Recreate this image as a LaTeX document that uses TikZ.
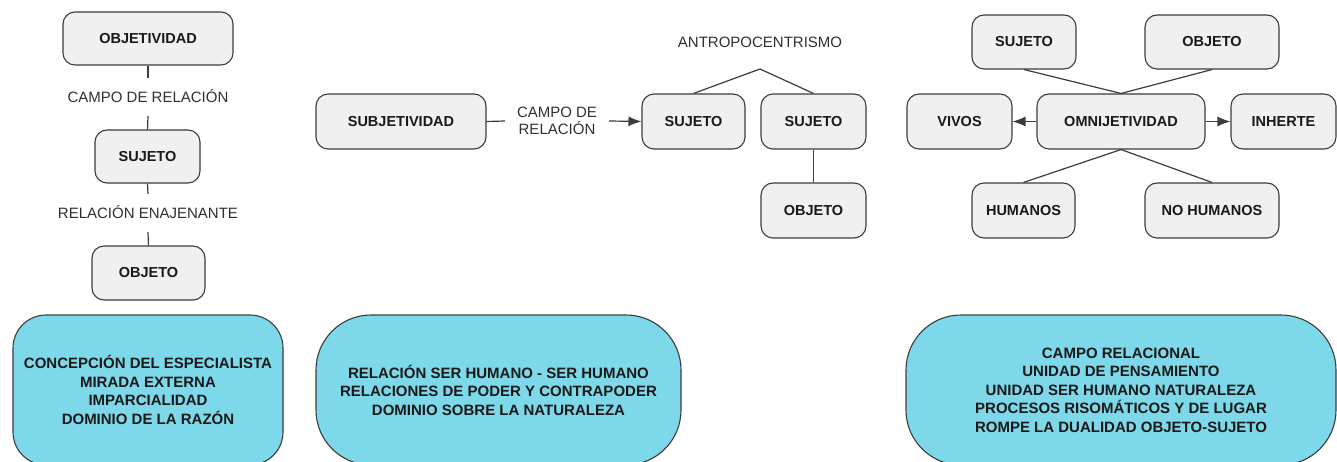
\documentclass[tikz,border=0pt]{standalone}
\usepackage{fontspec}
\setmainfont{Liberation Sans}
\usetikzlibrary{arrows.meta}
\definecolor{boxfill}{HTML}{F0F0F0}
\definecolor{boxline}{HTML}{3C3C3C}
\definecolor{cyanfill}{HTML}{7DD9E9}
\definecolor{labeltext}{HTML}{303030}
\tikzset{
  gbox/.style={draw=boxline, fill=boxfill, line width=1.1pt, rounded corners=12pt,
    inner sep=0pt, font=\bfseries\fontsize{14.5}{17}\selectfont, text=black!90},
  cbox/.style={draw=boxline, fill=cyanfill, line width=1.1pt, inner sep=0pt,
    align=center, font=\bfseries\fontsize{15}{18.5}\selectfont, text=black!90},
  lab/.style={font=\fontsize{15}{17}\selectfont, text=labeltext, text height=11pt,
    text depth=0pt, inner ysep=13.5pt, inner xsep=12pt},
  conn/.style={draw=boxline, line width=1.2pt},
  arr/.style={conn, -{Latex[length=13pt,width=10pt]}}
}
\begin{document}
\begin{tikzpicture}[x=1pt,y=-1pt]
\useasboundingbox (0,0) rectangle (1337,462);
\clip (0,0) rectangle (1337,462);

% ---------- left column ----------
\node[gbox, minimum width=170pt, minimum height=53pt] (objv) at (148,38.5) {OBJETIVIDAD};
\node[lab] (lab1) at (148,97) {CAMPO DE RELACIÓN};
\node[gbox, minimum width=105pt, minimum height=53pt] (suj1) at (147.5,156.5) {SUJETO};
\node[lab] (lab2) at (148,213) {RELACIÓN ENAJENANTE};
\node[gbox, minimum width=113pt, minimum height=54pt] (obj1) at (148.5,273) {OBJETO};
\draw[conn] (objv.south) -- (lab1.north);
\draw[conn] (lab1.south) -- (suj1.north);
\draw[conn] (suj1.south) -- (lab2.north);
\draw[conn] (lab2.south) -- (obj1.north);

% ---------- middle ----------
\node[gbox, minimum width=170pt, minimum height=55pt] (subj) at (401,121.5) {SUBJETIVIDAD};
\node[lab, align=center, text height=, text depth=, inner ysep=2pt, inner xsep=12pt,
      font=\fontsize{15}{17}\selectfont] (lab3) at (557,121) {CAMPO DE\\RELACIÓN};
\node[gbox, minimum width=103pt, minimum height=55pt] (sj1) at (693.5,121.5) {SUJETO};
\node[gbox, minimum width=105pt, minimum height=55pt] (sj2) at (813.5,121.5) {SUJETO};
\node[gbox, minimum width=105pt, minimum height=55pt] (obj2) at (813.5,210.5) {OBJETO};
\node[font=\fontsize{15}{17}\selectfont, text=labeltext] (antro) at (760,42) {ANTROPOCENTRISMO};
\coordinate (peak) at (760,69);
\draw[conn] (subj.east) -- (lab3.west);
\draw[arr] (lab3.east) -- (sj1.west);
\draw[conn] (sj1.north) -- (peak) -- (sj2.north);
\draw[conn] (sj2.south) -- (obj2.north);

% ---------- right ----------
\node[gbox, minimum width=104pt, minimum height=54pt] (rsuj) at (1024,42) {SUJETO};
\node[gbox, minimum width=134pt, minimum height=54pt] (robj) at (1212,42) {OBJETO};
\node[gbox, minimum width=105pt, minimum height=55pt] (vivos) at (959.5,121.5) {VIVOS};
\node[gbox, minimum width=168pt, minimum height=55pt] (omni) at (1121,121.5) {OMNIJETIVIDAD};
\node[gbox, minimum width=105pt, minimum height=55pt] (inh) at (1283.5,121.5) {INHERTE};
\node[gbox, minimum width=103pt, minimum height=55pt] (hum) at (1023.5,210.5) {HUMANOS};
\node[gbox, minimum width=134pt, minimum height=55pt] (nohum) at (1212,210.5) {NO HUMANOS};
\draw[conn] (rsuj.south) -- (omni.north);
\draw[conn] (robj.south) -- (omni.north);
\draw[conn] (omni.south) -- (hum.north);
\draw[conn] (omni.south) -- (nohum.north);
\draw[arr] (omni.west) -- (vivos.east);
\draw[arr] (omni.east) -- (inh.west);

% ---------- bottom cyan boxes ----------
\node[cbox, rounded corners=33pt, minimum width=270pt, minimum height=150pt] (c1) at (148,390)
  {CONCEPCIÓN DEL ESPECIALISTA\\MIRADA EXTERNA\\IMPARCIALIDAD\\DOMINIO DE LA RAZÓN};
\node[cbox, rounded corners=55pt, minimum width=365pt, minimum height=150pt] (c2) at (498.5,390)
  {RELACIÓN SER HUMANO - SER HUMANO\\RELACIONES DE PODER Y CONTRAPODER\\DOMINIO SOBRE LA NATURALEZA};
\node[cbox, rounded corners=55pt, minimum width=430pt, minimum height=150pt] (c3) at (1121,390)
  {CAMPO RELACIONAL\\UNIDAD DE PENSAMIENTO\\UNIDAD SER HUMANO NATURALEZA\\PROCESOS RISOMÁTICOS Y DE LUGAR\\ROMPE LA DUALIDAD OBJETO-SUJETO};
\end{tikzpicture}
\end{document}
